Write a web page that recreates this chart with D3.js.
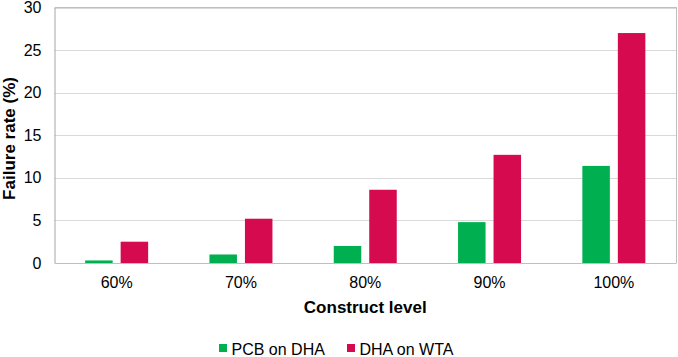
<!DOCTYPE html>
<html>
<head>
<meta charset="utf-8">
<script src="https://cdn.jsdelivr.net/npm/d3@7"></script>
<style>
  html, body { margin: 0; padding: 0; background: #fff; }
  svg { display: block; font-family: "Liberation Sans", Arial, sans-serif; }
</style>
</head>
<body>
<svg id="chart" width="678" height="357"></svg>
<script>
const categories = ["60%", "70%", "80%", "90%", "100%"];
const seriesNames = ["PCB on DHA", "DHA on WTA"];
const pcbOnDha = [0.3, 1.0, 2.0, 4.8, 11.4];
const dhaOnWta = [2.5, 5.2, 8.6, 12.7, 27.0];
const yTicks = [0, 5, 10, 15, 20, 25, 30];
const colors = ["#00B050", "#D60B4F"];

const svg = d3.select("#chart");
const m = { left: 54.5, right: 676, top: 7.5, bottom: 263 };

const x0 = d3.scaleBand().domain(categories).range([m.left, m.right]).padding(0);
const x1 = d3.scaleBand().domain(seriesNames).range([-31.5, 31.5]).paddingInner(0.225).paddingOuter(0);
const y = d3.scaleLinear().domain([0, 30]).range([m.bottom, m.top]);

// gridlines
svg.append("g")
  .selectAll("line")
  .data(yTicks.filter(t => t > 0))
  .join("line")
  .attr("x1", m.left).attr("x2", m.right)
  .attr("y1", d => Math.round(y(d)) + 0.5).attr("y2", d => Math.round(y(d)) + 0.5)
  .attr("stroke", "#D9D9D9").attr("stroke-width", 1);

// right border
svg.append("line")
  .attr("x1", m.right + 0.5).attr("x2", m.right + 0.5)
  .attr("y1", m.top).attr("y2", m.bottom)
  .attr("stroke", "#BFBFBF");

// bars
const data = categories.map((c, i) => ({ cat: c, vals: [pcbOnDha[i], dhaOnWta[i]] }));
const groups = svg.append("g").selectAll("g")
  .data(data).join("g")
  .attr("transform", d => `translate(${x0(d.cat) + x0.bandwidth() / 2},0)`);
groups.selectAll("rect")
  .data(d => d.vals.map((v, j) => ({ name: seriesNames[j], v, j })))
  .join("rect")
  .attr("x", d => x1(d.name))
  .attr("width", x1.bandwidth())
  .attr("y", d => y(d.v))
  .attr("height", d => y(0) - y(d.v))
  .attr("fill", d => colors[d.j]);

// y axis
const yAxis = d3.axisLeft(y).tickValues(yTicks).tickSize(0).tickPadding(13);
const gy = svg.append("g").attr("transform", `translate(${m.left},0)`).call(yAxis);
gy.select(".domain").attr("stroke", "#A6A6A6");
gy.selectAll("text").attr("font-size", 16).attr("fill", "#000")
  .attr("font-family", "'Liberation Sans', Arial, sans-serif");

// x axis
const xAxis = d3.axisBottom(x0).tickSize(0).tickPadding(14);
const gx = svg.append("g").attr("transform", `translate(0,${m.bottom})`).call(xAxis);
gx.select(".domain").attr("stroke", "#BFBFBF");
gx.selectAll("text").attr("font-size", 16).attr("fill", "#000")
  .attr("font-family", "'Liberation Sans', Arial, sans-serif");

// top border
svg.append("line")
  .attr("x1", m.left).attr("x2", m.right + 1)
  .attr("y1", m.top).attr("y2", m.top)
  .attr("stroke", "#BFBFBF");

// axis titles
svg.append("text")
  .attr("x", (m.left + m.right) / 2).attr("y", 313)
  .attr("text-anchor", "middle")
  .attr("font-size", 17).attr("font-weight", "bold")
  .text("Construct level");

svg.append("text")
  .attr("transform", `translate(14.5,${138.5}) rotate(-90)`)
  .attr("text-anchor", "middle")
  .attr("font-size", 17).attr("font-weight", "bold")
  .text("Failure rate (%)");

// legend
const legendX = [219, 347];
const legend = svg.append("g").selectAll("g")
  .data(seriesNames).join("g")
  .attr("transform", (d, i) => `translate(${legendX[i]},0)`);
legend.append("rect")
  .attr("x", 0).attr("y", 344).attr("width", 8).attr("height", 8)
  .attr("fill", (d, i) => colors[i]);
legend.append("text")
  .attr("x", 12.5).attr("y", 355)
  .attr("font-size", 16)
  .text(d => d);
</script>
</body>
</html>
